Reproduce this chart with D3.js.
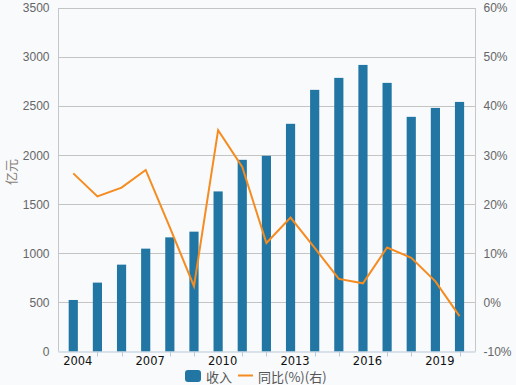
<!DOCTYPE html>
<html>
<head>
<meta charset="utf-8">
<script src="https://cdn.jsdelivr.net/npm/d3@7"></script>
<style>
  body { margin: 0; background: #f8fafc; }
  svg { display: block; font-family: "Liberation Sans", Arial, sans-serif; }
</style>
</head>
<body>
<div class="container"></div>
<script>
// years on the x axis, revenue (亿元) and yoy growth (%)
const years = ["2004","2005","2006","2007","2008","2009","2010","2011","2012","2013","2014","2015","2016","2017","2018","2019","2020"];
const revenue = [525, 702, 885, 1048, 1163, 1221, 1631, 1953, 1994, 2320, 2666, 2788, 2920, 2737, 2391, 2482, 2543];
const growth = [26.3, 21.6, 23.4, 27.0, 15.3, 3.3, 35.1, 27.6, 12.1, 17.3, 11.1, 4.8, 3.9, 11.2, 9.1, 4.3, -2.8];
const labelYears = ["2004","2007","2010","2013","2016","2019"];
const leftTicks = [0, 500, 1000, 1500, 2000, 2500, 3000, 3500];
const rightTicks = [-10, 0, 10, 20, 30, 40, 50, 60];

const width = 516, height = 385;
const plotLeft = 58.5, plotRight = 475.5, plotTop = 8, plotBottom = 351.5;

const barColor = "#2176a3";
const lineColor = "#f68b1f";

const svg = d3.select(".container").append("svg")
  .attr("width", width)
  .attr("height", height);

const x = d3.scaleBand()
  .domain(years)
  .range([61.2, 471.6])
  .paddingInner(0.62)
  .paddingOuter(0.31);

const y = d3.scaleLinear().domain([0, 3500]).range([plotBottom, plotTop]);
const yR = d3.scaleLinear().domain([-10, 60]).range([plotBottom, plotTop]);

// grid lines
svg.append("g")
  .selectAll("line")
  .data(leftTicks.slice(1))
  .enter().append("line")
  .attr("x1", plotLeft).attr("x2", plotRight)
  .attr("y1", d => Math.round(y(d)) + 0.5)
  .attr("y2", d => Math.round(y(d)) + 0.5)
  .attr("stroke", "#c4c4c4");

// side axis lines
svg.append("line")
  .attr("x1", plotLeft).attr("x2", plotLeft).attr("y1", plotTop).attr("y2", plotBottom)
  .attr("stroke", "#c4c8cc");
svg.append("line")
  .attr("x1", plotRight).attr("x2", plotRight).attr("y1", plotTop).attr("y2", plotBottom)
  .attr("stroke", "#c4c8cc");

// bars
svg.append("g")
  .selectAll("rect")
  .data(revenue)
  .enter().append("rect")
  .attr("x", (d, i) => x(years[i]))
  .attr("y", d => y(d))
  .attr("width", x.bandwidth())
  .attr("height", d => plotBottom - y(d))
  .attr("fill", barColor);

// bottom axis line and ticks
svg.append("line")
  .attr("x1", plotLeft).attr("x2", plotRight).attr("y1", plotBottom + 0.5).attr("y2", plotBottom + 0.5)
  .attr("stroke", "#b9c9d9");

svg.append("g")
  .selectAll("line")
  .data(years.filter(d => !labelYears.includes(d)))
  .enter().append("line")
  .attr("x1", d => Math.round(x(d) + x.bandwidth() / 2) + 0.5)
  .attr("x2", d => Math.round(x(d) + x.bandwidth() / 2) + 0.5)
  .attr("y1", plotBottom)
  .attr("y2", plotBottom + 5)
  .attr("stroke", "#b9c9d9");

svg.append("g")
  .selectAll("text")
  .data(labelYears)
  .enter().append("text")
  .attr("x", d => x(d) + x.bandwidth() / 2 + 4.5)
  .attr("y", 365)
  .attr("text-anchor", "middle")
  .attr("font-size", "11.5px")
  .attr("font-family", "DejaVu Sans, sans-serif")
  .attr("fill", "#111")
  .text(d => d);

// left axis labels
const leftAxis = d3.axisLeft(y).tickValues(leftTicks).tickSize(0).tickPadding(9).tickFormat(d3.format("d"));
const gl = svg.append("g").attr("transform", `translate(${plotLeft},0)`).call(leftAxis);
gl.select(".domain").remove();
gl.selectAll("text").attr("font-size", "12px").attr("fill", "#666").attr("font-family", "Liberation Sans, Arial, sans-serif");

// right axis labels
const rightAxis = d3.axisRight(yR).tickValues(rightTicks).tickSize(0).tickPadding(8).tickFormat(d => d + "%");
const gr = svg.append("g").attr("transform", `translate(${plotRight},0)`).call(rightAxis);
gr.select(".domain").remove();
gr.selectAll("text").attr("font-size", "12px").attr("fill", "#666").attr("font-family", "Liberation Sans, Arial, sans-serif");

// unit label
svg.append("text")
  .attr("transform", "translate(16,172) rotate(-90)")
  .attr("text-anchor", "middle")
  .attr("font-size", "13px")
  .attr("fill", "#8a7f78")
  .attr("font-family", "Noto Sans CJK SC, sans-serif")
  .text("亿元");

// growth line
const line = d3.line()
  .x((d, i) => x(years[i]) + x.bandwidth() / 2)
  .y(d => yR(d));

svg.append("path")
  .datum(growth)
  .attr("d", line)
  .attr("fill", "none")
  .attr("stroke", lineColor)
  .attr("stroke-width", 2);

// legend
const legend = svg.append("g").attr("id", "legend");
legend.append("rect")
  .attr("x", 185).attr("y", 370)
  .attr("width", 16).attr("height", 12)
  .attr("rx", 3)
  .attr("fill", barColor);
legend.append("text")
  .attr("x", 206).attr("y", 381.5)
  .attr("font-size", "13px")
  .attr("fill", "#555")
  .attr("font-family", "Noto Sans CJK SC, sans-serif")
  .text("收入");
legend.append("line")
  .attr("x1", 238).attr("x2", 253).attr("y1", 375.5).attr("y2", 375.5)
  .attr("stroke", lineColor).attr("stroke-width", 2);
legend.append("text")
  .attr("x", 258).attr("y", 381.5)
  .attr("font-size", "13px")
  .attr("fill", "#555")
  .attr("font-family", "Noto Sans CJK SC, sans-serif")
  .text("同比(%)(右)");
</script>
</body>
</html>
